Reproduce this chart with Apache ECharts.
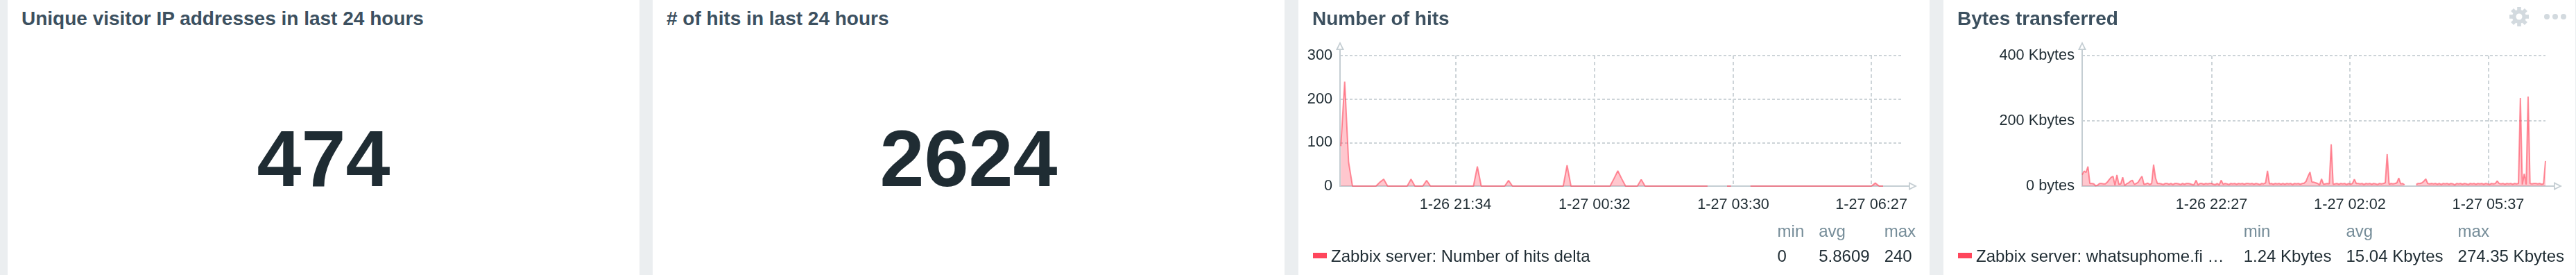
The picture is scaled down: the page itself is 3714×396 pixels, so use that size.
<!DOCTYPE html>
<html><head><meta charset="utf-8">
<script src="https://cdn.jsdelivr.net/npm/echarts@6.0.0/dist/echarts.min.js"></script>
<style>
html,body{margin:0;padding:0}
body{width:3714px;height:396px;background:#ebeef0;overflow:hidden;position:relative;font-family:"Liberation Sans",Arial,Helvetica,sans-serif;}
.panel{position:absolute;top:0;height:396px;background:#fff;overflow:hidden}
.title{position:absolute;left:20px;top:13px;font-weight:bold;font-size:28px;line-height:28px;color:#3c505f;white-space:nowrap;z-index:2}
.big{position:absolute;left:0;right:0;top:171px;text-align:center;font-weight:bold;font-size:115px;line-height:115px;color:#1f2c33}
.chart{position:absolute;left:0;top:0;width:100%;height:100%;z-index:1}
.swatch{position:absolute;left:21px;top:364px;width:20px;height:8px;background:#ff465c;z-index:2}
.lgname{position:absolute;left:47px;top:357px;font-size:24px;line-height:24px;color:#1f2c33;white-space:nowrap;z-index:2}
.stats{position:absolute;top:321px;display:flex;gap:21px;z-index:2}
.stats .col{display:flex;flex-direction:column}
.stats .h{font-size:24px;line-height:24px;color:#768d99;white-space:nowrap}
.stats .v{font-size:24px;line-height:24px;color:#1f2c33;margin-top:12px;white-space:nowrap}
.icons{position:absolute;left:816px;top:10px;z-index:2}
.dot{position:absolute;top:20px;width:8px;height:8px;border-radius:50%;background:#d3dadf;z-index:2}
</style></head>
<body>
<div class="panel" style="left:11px;width:911px"><div class="title" id="t1"></div><div class="big" id="b1"></div></div>
<div class="panel" style="left:941px;width:911px"><div class="title" id="t2"></div><div class="big" id="b2"></div></div>
<div class="panel" style="left:1872px;width:910px">
  <div class="chart" id="c3"></div>
  <div class="title" id="t3"></div>
  <div class="swatch"></div><div class="lgname" id="n3"></div>
  <div class="stats" id="s3" style="right:20px"></div>
</div>
<div class="panel" style="left:2802px;width:911px">
  <div class="chart" id="c4"></div>
  <div class="title" id="t4"></div>
  <svg class="icons" width="28" height="28" viewBox="0 0 28 28">
    <g fill="#d3dadf" transform="translate(14,14)">
      <circle r="10"/>
      <rect x="-2.8" y="-14" width="5.6" height="7" transform="rotate(0)"/>
      <rect x="-2.8" y="-14" width="5.6" height="7" transform="rotate(45)"/>
      <rect x="-2.8" y="-14" width="5.6" height="7" transform="rotate(90)"/>
      <rect x="-2.8" y="-14" width="5.6" height="7" transform="rotate(135)"/>
      <rect x="-2.8" y="-14" width="5.6" height="7" transform="rotate(180)"/>
      <rect x="-2.8" y="-14" width="5.6" height="7" transform="rotate(225)"/>
      <rect x="-2.8" y="-14" width="5.6" height="7" transform="rotate(270)"/>
      <rect x="-2.8" y="-14" width="5.6" height="7" transform="rotate(315)"/>
      <circle r="4.5" fill="#ffffff"/>
    </g>
  </svg>
  <div class="dot" style="left:866px"></div><div class="dot" style="left:878px"></div><div class="dot" style="left:890px"></div>
  <div class="swatch"></div><div class="lgname" id="n4"></div>
  <div class="stats" id="s4" style="right:16px"></div>
</div>
<script>
// ---------- data ----------
const widgetTitles = ['Unique visitor IP addresses in last 24 hours', '# of hits in last 24 hours', 'Number of hits', 'Bytes transferred'];
const singleValues = ['474', '2624'];

const YEAR = 2021;
const windowStart = '1-26 19:06';
const windowEnd = '1-27 07:06';

const hitsTickLabels = ['1-26 21:34', '1-27 00:32', '1-27 03:30', '1-27 06:27'];
const bytesTickLabels = ['1-26 22:27', '1-27 02:02', '1-27 05:37'];

const hitsYTicks = [0, 100, 200, 300];
const bytesYTicks = [0, 200, 400];   // Kbytes

// Number of hits delta, one sample every 5 min starting 1-26 19:07 (null = no data)
const hitsFirstSample = '1-26 19:07';
const hitsStepMin = 5;
const hitsValues = [
  92,240,55,0,0,0,0,0,0,0,
  9,16,0,0,0,0,0,0,16,0,
  0,0,13,0,0,0,0,0,0,0,
  0,0,0,0,0,45,0,0,0,0,
  0,0,0,13,0,0,0,0,0,0,
  0,0,0,0,0,0,0,0,48,0,
  0,0,0,0,0,0,0,0,0,0,
  17,35,17,0,0,0,0,15,0,0,
  0,0,0,0,0,0,0,0,0,0,
  0,0,0,0,0,null,null,null,null,0,
  0,null,null,null,null,0,0,0,0,0,
  0,0,0,0,0,0,0,0,0,0,
  0,0,0,0,0,0,0,0,0,0,
  0,0,0,0,0,0,0,7,0,0
];

// Bytes transferred (Kbytes), one sample every 3 min starting 1-26 19:06 (null = no data)
const bytesFirstSample = '1-26 19:06';
const bytesStepMin = 3;
const bytesValues = [
  35,46,42,60,8,8,7,1.24,3,8,
  8,7,7,12,20,27,30,3,34,6,
  7,27,2,7,10,15,18,6,8,12,
  22,30,6,7,9,5,8,66,25,8,
  8,7,5,8,8,6,8,5,8,8,
  7,5,8,6,8,8,7,5,5,18,
  4,8,8,6,8,7,8,8,6,5,
  8,4,18,6,8,7,5,8,7,8,
  6,8,7,8,6,8,8,7,8,6,
  8,7,5,8,7,10,47,7,8,6,
  8,7,8,6,8,6,8,7,8,5,
  8,7,8,6,8,9,15,30,43,13,
  12,10,8,4,22,6,7,8,7,128,
  6,7,8,6,8,7,8,5,8,6,
  8,21,8,8,7,8,5,8,7,8,
  6,8,7,5,8,7,8,10,98,6,
  8,7,8,10,25,7,8,4,null,null,
  null,null,null,5,8,8,10,15,22,8,
  7,8,7,8,6,8,5,8,7,8,
  6,8,7,4,8,7,8,6,8,7,
  5,8,7,8,6,8,7,8,6,8,
  7,5,8,7,8,16,8,7,8,6,
  8,7,8,6,8,7,8,270,5,38,
  5,274.35,8,7,8,8,7,8,6,7,
  77
];

const statNames = ['min', 'avg', 'max'];
const hitsLegendName = 'Zabbix server: Number of hits delta';
const hitsStats = ['0', '5.8609', '240'];
const bytesLegendName = 'Zabbix server: whatsuphome.fi …';
const bytesStats = ['1.24 Kbytes', '15.04 Kbytes', '274.35 Kbytes'];

// ---------- helpers ----------
const FONT = '"Liberation Sans", Arial, Helvetica, sans-serif';
const LINE = 'rgba(255,70,92,0.6)';
const FILL = 'rgba(255,70,92,0.3)';
const GRID = '#cdd4d8';
const AXIS = '#c5ced3';
const TEXT = '#1f2c33';
const ARROW = 'path://M0,12L6,0L12,12Z M2.91,10.2L9.09,10.2L6,4.03Z';

function stamp(s) {
  const [md, hm] = s.split(' ');
  const [m, d] = md.split('-').map(Number);
  const [h, mi] = hm.split(':').map(Number);
  return new Date(YEAR, m - 1, d, h, mi).getTime();
}
function pad(n) { return String(n).padStart(2, '0'); }
function fmtTime(v) {
  const d = new Date(v);
  return (d.getMonth() + 1) + '-' + pad(d.getDate()) + ' ' + pad(d.getHours()) + ':' + pad(d.getMinutes());
}
function series(first, stepMin, values) {
  const t0 = stamp(first);
  return values.map((v, i) => [t0 + i * stepMin * 60000, v === null ? '-' : v]);
}

document.getElementById('t1').textContent = widgetTitles[0];
document.getElementById('t2').textContent = widgetTitles[1];
document.getElementById('t3').textContent = widgetTitles[2];
document.getElementById('t4').textContent = widgetTitles[3];
document.getElementById('b1').textContent = singleValues[0];
document.getElementById('b2').textContent = singleValues[1];
document.getElementById('n3').textContent = hitsLegendName;
document.getElementById('n4').textContent = bytesLegendName;

function fillStats(id, vals) {
  const el = document.getElementById(id);
  statNames.forEach((n, i) => {
    const col = document.createElement('div'); col.className = 'col';
    const h = document.createElement('div'); h.className = 'h'; h.textContent = n;
    const v = document.createElement('div'); v.className = 'v'; v.textContent = vals[i];
    col.appendChild(h); col.appendChild(v); el.appendChild(col);
  });
}
fillStats('s3', hitsStats);
fillStats('s4', bytesStats);

function frameAxis(grid) {
  return {
    type: 'value', gridIndex: grid, min: 0, max: 1,
    axisLine: { show: true, onZero: false, lineStyle: { color: AXIS, width: 2 },
      symbol: ['none', ARROW], symbolSize: [12, 12], symbolOffset: [0, 6] },
    axisTick: { show: false }, axisLabel: { show: false }, splitLine: { show: false }
  };
}

function graphOption(c) {
  const xt = c.ticks.map(stamp);
  return {
    animation: false,
    backgroundColor: 'transparent',
    grid: [
      { left: c.left, right: c.right, top: 80, bottom: 128, outerBoundsMode: 'none' },
      { left: c.left, right: c.frameRight, top: 72, bottom: 128, outerBoundsMode: 'none' }
    ],
    xAxis: [
      {
        type: 'value', gridIndex: 0, min: stamp(windowStart), max: stamp(windowEnd),
        axisLine: { show: false },
        axisTick: { show: false, customValues: xt },
        axisLabel: { customValues: xt, formatter: fmtTime, margin: 16, color: TEXT, fontSize: 21.7, fontFamily: FONT },
        splitLine: { show: true, lineStyle: { color: GRID, width: 2, type: [5, 4] } }
      },
      frameAxis(1)
    ],
    yAxis: [
      {
        type: 'value', gridIndex: 0, min: c.yTicks[0], max: c.yTicks[c.yTicks.length - 1],
        interval: c.yTicks[1] - c.yTicks[0],
        axisLine: { show: false }, axisTick: { show: false },
        axisLabel: { margin: 11, color: TEXT, fontSize: 21.7, fontFamily: FONT, formatter: c.yFmt },
        splitLine: { show: true, lineStyle: { color: GRID, width: 2, type: [4, 3] } }
      },
      frameAxis(1)
    ],
    series: [{
      type: 'line', xAxisIndex: 0, yAxisIndex: 0, data: c.data,
      showSymbol: false, symbol: 'none', connectNulls: false, smooth: false,
      lineStyle: { color: LINE, width: 2 },
      areaStyle: { color: FILL, opacity: 1 },
      z: 3
    }]
  };
}

const hitsChart = echarts.init(document.getElementById('c3'), null, { renderer: 'canvas' });
hitsChart.setOption(graphOption({
  left: 60, right: 40, frameRight: 30,
  ticks: hitsTickLabels, yTicks: hitsYTicks,
  yFmt: v => String(v),
  data: series(hitsFirstSample, hitsStepMin, hitsValues)
}));

const bytesChart = echarts.init(document.getElementById('c4'), null, { renderer: 'canvas' });
bytesChart.setOption(graphOption({
  left: 200, right: 43, frameRight: 31,
  ticks: bytesTickLabels, yTicks: bytesYTicks,
  yFmt: v => v === 0 ? '0 bytes' : v + ' Kbytes',
  data: series(bytesFirstSample, bytesStepMin, bytesValues)
}));
</script>
</body></html>
